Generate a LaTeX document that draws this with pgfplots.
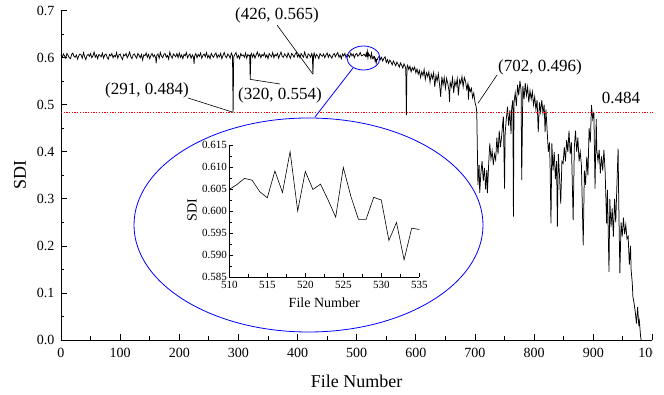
\documentclass[border=0pt]{standalone}
\usepackage{pgfplots}
\usepackage{pgfplotstable}
\pgfplotsset{compat=1.18}
\usepackage{fontspec}
\setmainfont{Liberation Serif}

\pgfplotstableread{
x y
0 0.606
2 0.601
4 0.608
6 0.604
8 0.599
10 0.609
12 0.605
14 0.600
16 0.598
18 0.607
20 0.610
22 0.603
24 0.601
26 0.606
28 0.597
30 0.604
32 0.608
34 0.606
36 0.599
38 0.611
40 0.602
42 0.596
44 0.605
46 0.607
48 0.603
50 0.609
52 0.600
54 0.604
56 0.612
58 0.601
60 0.606
62 0.598
64 0.607
66 0.605
68 0.602
70 0.610
72 0.599
74 0.606
76 0.608
78 0.601
80 0.597
82 0.607
84 0.604
86 0.609
88 0.600
90 0.605
92 0.602
94 0.611
96 0.599
98 0.606
100 0.608
102 0.601
104 0.596
106 0.607
108 0.604
110 0.609
112 0.600
114 0.605
116 0.612
118 0.602
120 0.598
122 0.606
124 0.608
126 0.603
128 0.599
130 0.609
132 0.605
134 0.600
136 0.607
138 0.595
140 0.606
142 0.604
144 0.610
146 0.601
148 0.607
150 0.598
152 0.605
154 0.609
156 0.602
158 0.606
160 0.600
161 0.588
162 0.605
164 0.608
166 0.599
168 0.611
170 0.603
172 0.600
174 0.607
176 0.609
178 0.601
180 0.605
182 0.597
184 0.612
186 0.604
188 0.599
190 0.608
192 0.605
194 0.602
196 0.609
198 0.600
200 0.610
202 0.601
204 0.606
206 0.598
208 0.607
210 0.604
212 0.611
214 0.600
216 0.605
218 0.608
220 0.599
222 0.606
224 0.601
225 0.587
226 0.604
228 0.609
230 0.600
232 0.607
234 0.603
236 0.610
238 0.599
240 0.605
242 0.608
244 0.602
246 0.611
248 0.600
250 0.605
252 0.598
254 0.609
256 0.604
258 0.601
260 0.607
262 0.610
264 0.600
266 0.606
268 0.602
270 0.609
272 0.598
274 0.605
276 0.611
278 0.603
280 0.600
282 0.608
284 0.605
286 0.599
288 0.610
290 0.604
291 0.484
292 0.602
294 0.607
296 0.611
298 0.600
300 0.605
302 0.598
304 0.609
306 0.604
308 0.606
310 0.601
312 0.610
314 0.599
316 0.607
318 0.604
319 0.605
320 0.554
321 0.606
322 0.609
324 0.601
326 0.608
328 0.599
330 0.606
332 0.612
334 0.603
336 0.608
338 0.600
340 0.607
342 0.604
344 0.610
346 0.601
348 0.606
350 0.598
352 0.609
354 0.605
356 0.602
358 0.611
360 0.600
362 0.607
364 0.604
366 0.609
368 0.599
370 0.606
372 0.612
374 0.603
376 0.601
378 0.608
380 0.605
382 0.600
384 0.610
386 0.604
388 0.599
390 0.609
392 0.606
394 0.601
396 0.608
398 0.611
400 0.602
402 0.607
404 0.600
406 0.609
408 0.605
410 0.601
412 0.612
414 0.604
416 0.599
418 0.608
420 0.606
422 0.601
424 0.609
425 0.605
426 0.565
427 0.604
428 0.610
430 0.600
432 0.607
434 0.604
436 0.598
438 0.609
440 0.605
442 0.603
444 0.608
446 0.600
448 0.606
450 0.610
452 0.601
454 0.607
456 0.603
458 0.599
460 0.606
462 0.609
464 0.602
466 0.607
468 0.611
470 0.601
472 0.606
474 0.598
476 0.608
478 0.604
480 0.609
482 0.600
484 0.607
486 0.605
488 0.601
490 0.610
492 0.604
494 0.608
496 0.600
498 0.607
500 0.609
502 0.603
504 0.606
506 0.611
508 0.604
510 0.6049
511 0.6060
512 0.6074
513 0.6070
514 0.6044
515 0.6030
516 0.6091
517 0.6042
518 0.6135
519 0.6000
520 0.6090
521 0.6049
522 0.6061
523 0.6025
524 0.5986
525 0.6099
526 0.6033
527 0.5981
528 0.5981
529 0.6031
530 0.6025
531 0.5933
532 0.5974
533 0.5889
534 0.5961
535 0.5958
536 0.6000
538 0.6030
540 0.5960
542 0.6010
544 0.5930
546 0.5990
548 0.6020
550 0.5900
552 0.5960
554 0.5880
556 0.5950
558 0.5910
560 0.5850
562 0.5930
564 0.5880
566 0.5830
568 0.5910
570 0.5860
572 0.5800
574 0.5890
576 0.5840
578 0.5780
580 0.5870
582 0.5810
583 0.5760
584 0.4780
585 0.5800
586 0.5840
588 0.5750
590 0.5820
592 0.5700
594 0.5790
596 0.5740
598 0.5800
600 0.5680
602 0.5760
604 0.5650
606 0.5730
608 0.5580
610 0.5700
612 0.5620
614 0.5750
616 0.5540
618 0.5680
620 0.5600
622 0.5700
624 0.5480
626 0.5650
628 0.5560
630 0.5680
632 0.5380
634 0.5620
636 0.5500
638 0.5660
640 0.5450
642 0.5170
644 0.5600
646 0.5420
648 0.5580
650 0.5350
652 0.5560
654 0.5450
656 0.5300
657 0.5060
658 0.5480
660 0.5380
662 0.5570
664 0.5250
666 0.5500
668 0.5400
670 0.5560
672 0.5200
674 0.5530
676 0.5450
678 0.5600
680 0.5380
682 0.5580
684 0.5500
686 0.5330
688 0.5450
689 0.5110
690 0.5380
692 0.5280
694 0.5350
696 0.5150
698 0.5250
700 0.5050
702 0.4960
703 0.4840
705 0.330
707 0.372
708 0.312
710 0.355
712 0.380
714 0.338
716 0.366
718 0.320
720 0.361
721 0.312
723 0.370
725 0.418
727 0.385
729 0.402
731 0.372
733 0.395
735 0.383
737 0.430
739 0.395
741 0.445
743 0.410
745 0.432
747 0.462
748 0.475
750 0.322
751 0.440
753 0.470
755 0.496
757 0.455
759 0.488
761 0.438
762 0.492
764 0.510
765 0.262
766 0.505
768 0.525
770 0.498
772 0.542
774 0.520
776 0.551
778 0.530
779 0.340
781 0.540
783 0.512
785 0.546
787 0.520
789 0.538
791 0.505
793 0.530
795 0.512
797 0.528
799 0.500
801 0.517
803 0.490
805 0.510
807 0.442
809 0.505
811 0.485
813 0.510
815 0.482
817 0.500
818.5 0.442
820 0.490
822 0.445
824 0.400
826 0.420
827 0.370
828.5 0.248
830 0.418
832 0.360
834 0.400
836 0.342
838 0.380
839.3 0.241
841 0.395
843 0.347
845 0.290
847 0.380
849 0.375
851 0.410
853 0.380
855 0.425
857 0.400
859 0.445
861 0.395
863 0.420
866 0.255
868 0.410
870 0.445
872 0.400
874 0.430
876 0.380
878 0.400
880 0.370
883 0.201
885 0.360
887 0.330
889 0.390
891 0.350
893 0.450
895 0.420
897 0.499
899 0.470
901 0.485
903 0.322
905 0.470
906 0.404
908 0.380
910 0.404
912 0.354
914 0.390
916 0.360
918 0.404
920 0.360
922.6 0.248
924 0.319
926.6 0.145
928 0.300
930 0.240
932 0.280
934 0.220
936 0.300
938 0.250
940 0.330
942 0.407
943 0.300
945 0.142
947 0.250
949 0.220
951 0.260
953 0.225
955 0.245
957 0.215
959 0.220
961 0.160
963 0.200
964 0.150
966 0.120
967 0.092
969 0.078
971 0.060
973 0.035
975 0.070
977 0.030
978 0.040
980 0.008
981 0.000
}\maindata

\pgfplotstableread{
x y
510 0.6049
511 0.6060
512 0.6074
513 0.6070
514 0.6044
515 0.6030
516 0.6091
517 0.6042
518 0.6135
519 0.6000
520 0.6090
521 0.6049
522 0.6061
523 0.6025
524 0.5986
525 0.6099
526 0.6033
527 0.5981
528 0.5981
529 0.6031
530 0.6025
531 0.5933
532 0.5974
533 0.5889
534 0.5961
535 0.5958
}\insetdata

\begin{document}
\begin{tikzpicture}
\begin{axis}[
  at={(0pt,0pt)}, anchor=south west,
  scale only axis, width=591.4pt, height=329.3pt,
  xmin=0, xmax=1000, ymin=0, ymax=0.7,
  axis x line*=bottom, axis y line*=left,
  axis line style={line width=0.9pt},
  tick align=inside,
  major tick length=6pt, minor tick length=3.5pt,
  every tick/.style={black, line width=0.8pt},
  xtick={0,100,...,1000}, minor x tick num=1,
  ytick={0,0.1,0.2,0.3,0.4,0.5,0.6,0.7}, minor y tick num=1,
  /pgf/number format/assume math mode=true,
  /pgf/number format/1000 sep={},
  tick label style={font=\fontsize{14}{16}\selectfont},
  xticklabel style={yshift=-5pt},
  yticklabel style={xshift=-3pt, /pgf/number format/.cd, fixed, fixed zerofill, precision=1},
  clip=false,
]
\addplot[black, line width=0.75pt] table {\maindata};
\addplot[red, line width=1.3pt, dash pattern=on 1.3pt off 1.4pt] coordinates {(0,0.484) (1000,0.484)};
\coordinate (p426) at (axis cs:426,0.565);
\coordinate (p320) at (axis cs:320,0.554);
\coordinate (p291) at (axis cs:291,0.484);
\coordinate (p702) at (axis cs:705,0.503);
\coordinate (xend) at (axis cs:1000,0);
\end{axis}

% hide the cropped part of the last tick label, as in the reference
\fill[white] ([xshift=0.3pt,yshift=-2pt]xend) rectangle ++(20pt,-26pt);

% annotations
\begin{scope}[every node/.style={font=\fontsize{17}{20}\selectfont, inner sep=0pt}]
\node at (216pt,325pt) {(426, 0.565)};
\node at (219pt,245pt) {(320, 0.554)};
\node at (86pt,250pt) {(291, 0.484)};
\node at (479pt,273pt) {(702, 0.496)};
\node at (560pt,242pt) {0.484};
\end{scope}
\draw[black, line width=0.6pt] (p426) -- (216pt,315pt);
\draw[black, line width=0.6pt] (p320) -- (219pt,256pt);
\draw[black, line width=0.6pt] (p291) -- (127pt,242pt);
\draw[black, line width=0.6pt] (p702) -- (436pt,265pt);

% zoom ellipses
\draw[blue, line width=0.8pt] (302.5pt,282pt) ellipse [x radius=16.5pt, y radius=12pt];
\draw[blue, line width=0.8pt] (247.5pt,115pt) ellipse [x radius=174.5pt, y radius=107pt];
\draw[blue, line width=0.8pt] (292pt,272pt) -- (254pt,223pt);

% inset
\begin{axis}[
  at={(168.3pt,63pt)}, anchor=south west,
  scale only axis, width=190pt, height=132pt,
  xmin=510, xmax=535, ymin=0.585, ymax=0.615,
  axis x line*=bottom, axis y line*=left,
  axis line style={line width=0.7pt},
  tick align=inside,
  major tick length=4pt, minor tick length=2.5pt,
  every tick/.style={black, line width=0.6pt},
  xtick={510,515,520,525,530,535}, minor x tick num=1,
  ytick={0.585,0.59,0.595,0.6,0.605,0.61,0.615}, minor y tick num=1,
  /pgf/number format/assume math mode=true,
  tick label style={font=\fontsize{11}{13}\selectfont},
  xticklabel style={yshift=-1pt},
  yticklabel style={xshift=1pt, /pgf/number format/.cd, fixed, fixed zerofill, precision=3},
  clip=false,
]
\addplot[black, line width=0.6pt] table {\insetdata};
\end{axis}
\node[font=\fontsize{14}{16}\selectfont] at (263.3pt,37pt) {File Number};
\node[font=\fontsize{14}{16}\selectfont, rotate=90] at (131pt,130pt) {SDI};

% main axis labels
\node[font=\fontsize{18}{20}\selectfont] at (295.7pt,-41pt) {File Number};
\node[font=\fontsize{18}{20}\selectfont, rotate=90] at (-41pt,164.6pt) {SDI};

\pgfresetboundingbox
\useasboundingbox (-61pt,-55pt) rectangle (603pt,340pt);
\end{tikzpicture}
\end{document}
